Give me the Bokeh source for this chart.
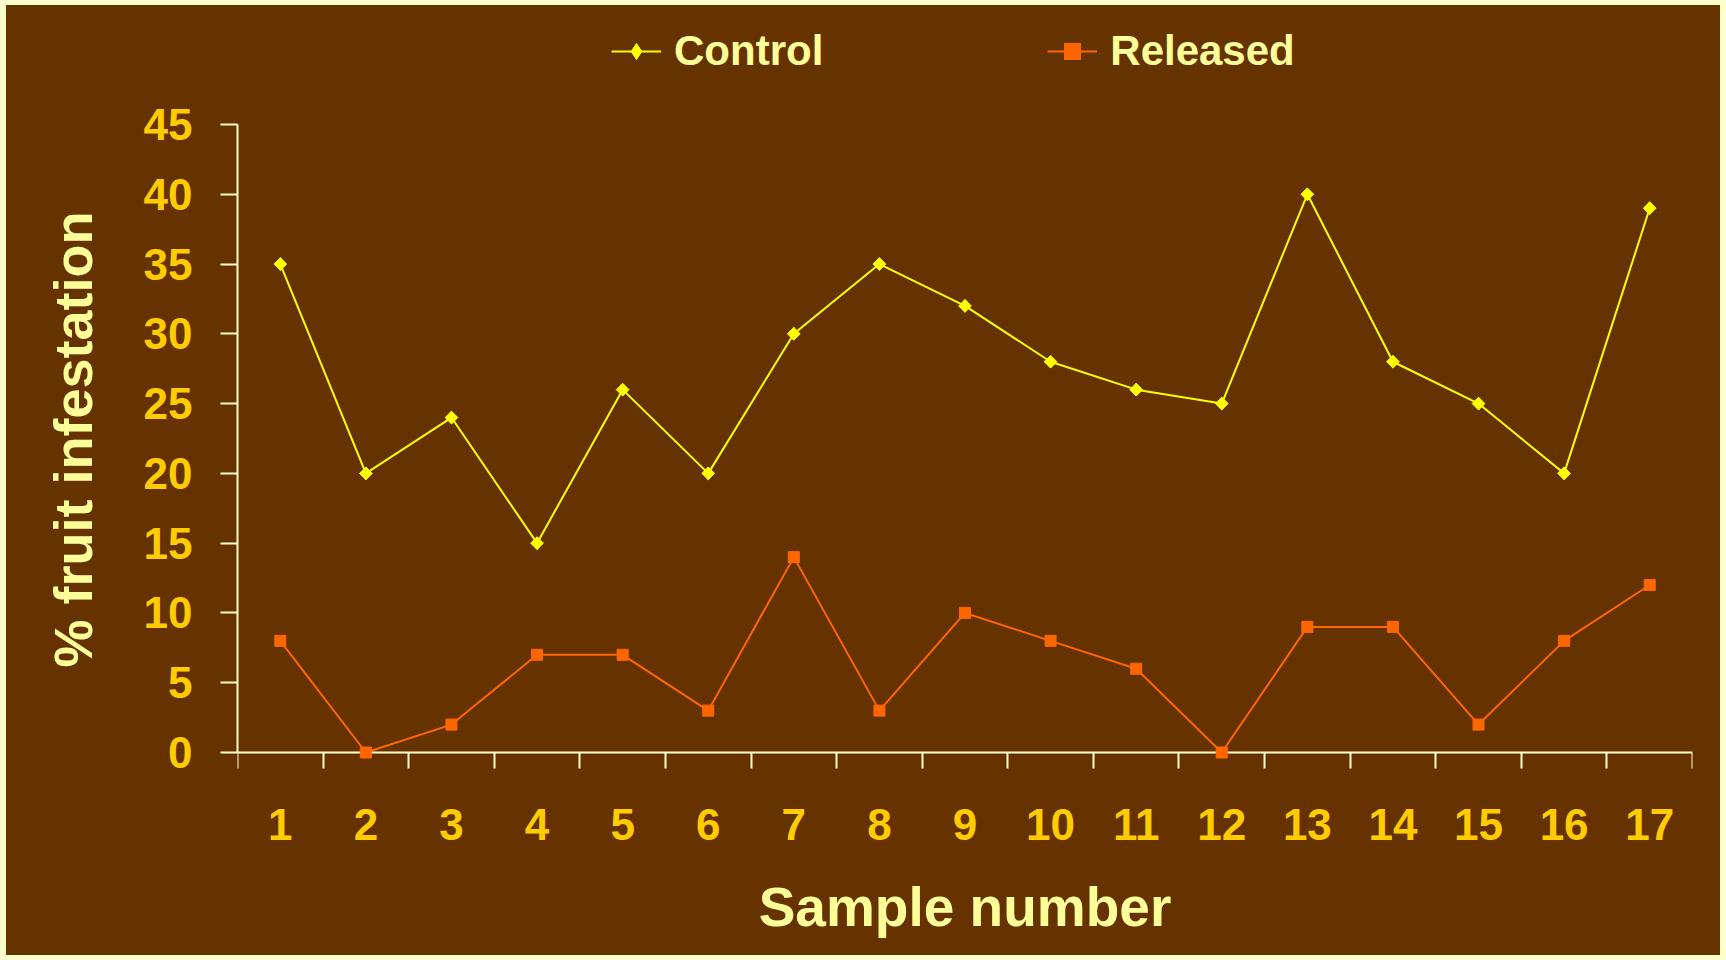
import math
from bokeh.plotting import figure
from bokeh.models import Range1d, FixedTicker, Legend, LegendItem, LinearAxis
from bokeh.layouts import column
from bokeh.embed import file_html
from bokeh.resources import INLINE

samples = list(range(1, 18))
control = [35, 20, 24, 15, 26, 20, 30, 35, 32, 28, 26, 25, 40, 28, 25, 20, 39]
released = [8, 0, 2, 7, 7, 3, 14, 3, 10, 8, 6, 0, 9, 9, 2, 8, 12]
y_ticks = [0, 5, 10, 15, 20, 25, 30, 35, 40, 45]
boundaries = [s - 0.5 for s in samples] + [samples[-1] + 0.5]

BG = "#663300"
FRAME_BG = "#FFFFCC"
AXIS = "#FFFFCC"
TICK_TXT = "#FFCC00"
TITLE_TXT = "#FFFF99"
FONT = "Liberation Sans"

p = figure(width=1714, height=950, output_backend="svg", toolbar_location=None,
           x_range=Range1d(0.5, 17.5), y_range=Range1d(-8.455, 53.31),
           min_border_left=231, min_border_right=28, min_border_top=3,
           min_border_bottom=85)
p.background_fill_color = BG
p.border_fill_color = BG
p.outline_line_color = None
p.xgrid.visible = False
p.ygrid.visible = False

# x axis line at y = 0, ticks between samples, sample numbers below
xa = p.xaxis[0]
xa.ticker = FixedTicker(ticks=samples, minor_ticks=boundaries)
xa.fixed_location = 0
xa.axis_line_color = AXIS
xa.axis_line_width = 2
xa.major_tick_out = 0
xa.major_tick_in = 0
xa.minor_tick_out = 16
xa.minor_tick_in = 0
xa.minor_tick_line_color = AXIS
xa.minor_tick_line_width = 2
xa.major_label_text_color = TICK_TXT
xa.major_label_text_font = FONT
xa.major_label_text_font_style = "bold"
xa.major_label_text_font_size = "44px"
xa.major_label_standoff = 40

# axis title (below panel)
xl = LinearAxis(ticker=FixedTicker(ticks=[]))
xl.axis_line_color = None
xl.major_tick_line_color = None
xl.minor_tick_line_color = None
xl.major_tick_out = 0
xl.axis_label = "Sample number"
xl.axis_label_text_color = TITLE_TXT
xl.axis_label_text_font = FONT
xl.axis_label_text_font_style = "bold"
xl.axis_label_text_font_size = "55px"
xl.axis_label_standoff = 5
p.add_layout(xl, "below")

# y axis
ya = p.yaxis[0]
ya.ticker = FixedTicker(ticks=y_ticks)
ya.bounds = (0, 45)
ya.axis_line_color = AXIS
ya.axis_line_width = 2
ya.major_tick_out = 17
ya.major_tick_in = 0
ya.major_tick_line_color = AXIS
ya.major_tick_line_width = 2
ya.minor_tick_out = 0
ya.minor_tick_in = 0
ya.major_label_text_color = TICK_TXT
ya.major_label_text_font = FONT
ya.major_label_text_font_style = "bold"
ya.major_label_text_font_size = "44px"
ya.major_label_standoff = 28
ya.axis_label = "% fruit infestation"
ya.axis_label_text_color = TITLE_TXT
ya.axis_label_text_font = FONT
ya.axis_label_text_font_style = "bold"
ya.axis_label_text_font_size = "54px"
ya.axis_label_standoff = 38

c_line = p.line(samples, control, line_color="#FFFF00", line_width=2)
c_key = p.scatter(samples, control, marker="diamond", size=12.5,
                  fill_color="#FFFF00", line_color="#FFFF00", level="overlay")
c_pts = p.scatter(samples, control, marker="square", angle=math.pi / 4, size=9,
                  fill_color="#FFFF00", line_color="#FFFF00", level="overlay")
r_line = p.line(samples, released, line_color="#FF6600", line_width=2)
r_pts = p.scatter(samples, released, marker="square", size=11,
                  fill_color="#FF6600", line_color="#FF6600", level="overlay")

legend = Legend(items=[LegendItem(label="Control", renderers=[c_line, c_key]),
                       LegendItem(label="Released", renderers=[r_line, r_pts])],
                location=(374, 795), orientation="horizontal",
                background_fill_alpha=0, border_line_color=None,
                padding=0, margin=0, spacing=224, glyph_width=50, glyph_height=40,
                label_standoff=13, label_text_font=FONT, label_text_font_style="bold",
                label_text_font_size="42px", label_text_color=TITLE_TXT)
p.add_layout(legend, "center")

frame_shadow = (f"inset 0 5px 0 0 {FRAME_BG}, inset 0 -5px 0 0 {FRAME_BG}, "
                f"inset 6px 0 0 0 {FRAME_BG}, inset -6px 0 0 0 {FRAME_BG}")
page = column(p, styles={"background-color": BG, "padding": "5px 6px 5px 6px",
                         "box-shadow": frame_shadow})

open("out.html", "w").write(file_html(page, INLINE))
